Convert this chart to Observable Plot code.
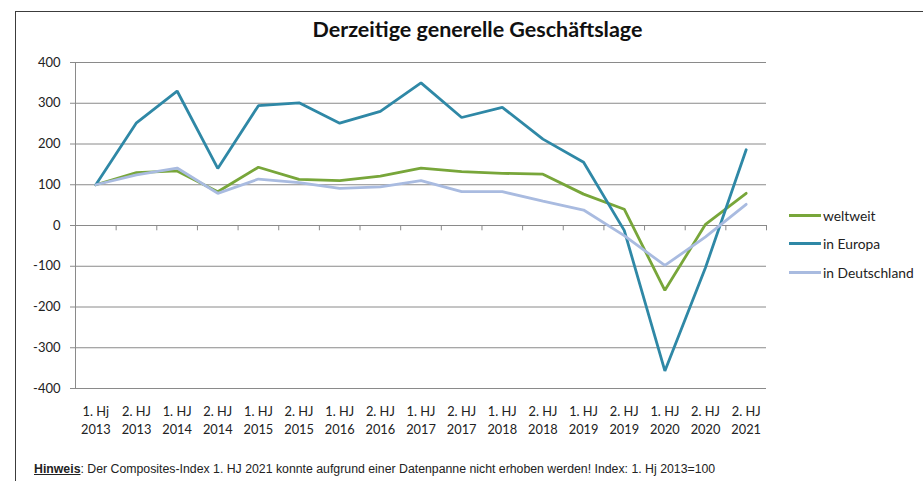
<!DOCTYPE html>
<html>
<head>
<meta charset="utf-8">
<script src="https://cdn.jsdelivr.net/npm/d3@7"></script>
<script src="https://cdn.jsdelivr.net/npm/@observablehq/plot@0.6"></script>
<style>
  html, body { margin: 0; padding: 0; background: #fff; overflow: hidden; }
  #wrap { position: relative; width: 923px; height: 481px; overflow: hidden; background: #fff; }
  #frame { position: absolute; left: 15px; top: 11px; width: 960px; height: 520px; border: 1.5px solid #3c3c3c; box-sizing: border-box; }
  #chart { position: absolute; left: 0; top: 0; }
  #title { position: absolute; left: 0; width: 955px; top: 16px; text-align: center; font-family: Lato, sans-serif; font-weight: bold; font-size: 21.5px; color: #111; }
  #legend { position: absolute; left: 789px; top: 201px; font-family: Lato, sans-serif; font-size: 13.8px; color: #222; }
  .row { display: flex; align-items: center; height: 28.5px; }
  .sw { width: 32px; height: 3px; margin-right: 2px; }
  #note { position: absolute; left: 34px; top: 462px; font-family: "Liberation Sans Narrow", "Arial Narrow", sans-serif; font-size: 12.3px; color: #222; white-space: nowrap; }
  #note b { text-decoration: underline; }
</style>
</head>
<body>
<div id="wrap">
  <div id="frame"></div>
  <div id="chart"></div>
  <div id="title">Derzeitige generelle Geschäftslage</div>
  <div id="legend"></div>
  <div id="note"><b>Hinweis</b>: Der Composites-Index 1. HJ 2021 konnte aufgrund einer Datenpanne nicht erhoben werden! Index: 1. Hj 2013=100</div>
</div>
<script>
const categories = ["1. Hj\n2013","2. HJ\n2013","1. HJ\n2014","2. HJ\n2014","1. HJ\n2015","2. HJ\n2015","1. HJ\n2016","2. HJ\n2016","1. HJ\n2017","2. HJ\n2017","1. HJ\n2018","2. HJ\n2018","1. HJ\n2019","2. HJ\n2019","1. HJ\n2020","2. HJ\n2020","2. HJ\n2021"];
const weltweit     = [100, 130, 134, 83, 143, 113, 110, 121, 141, 132, 128, 126, 77, 40, -159, 3, 79];
const inEuropa     = [100, 252, 330, 140, 294, 301, 251, 280, 350, 265, 290, 212, 155, -12, -357, -103, 186];
const inDeutschland= [100, 124, 141, 79, 114, 105, 91, 95, 110, 83, 83, 60, 38, -25, -98, -28, 52];
const seriesNames  = ["weltweit", "in Europa", "in Deutschland"];
const seriesColors = ["#78a63a", "#2f88a6", "#a9bbe0"];
const yTicks = [-400, -300, -200, -100, 0, 100, 200, 300, 400];

const seriesValues = [weltweit, inEuropa, inDeutschland];
const rows = [];
seriesValues.forEach((vals, s) => vals.forEach((v, i) => rows.push({i, v, s: seriesNames[s]})));
const idx = categories.map((_, i) => i);
const bounds = idx.map(i => i + 0.5);

const plot = Plot.plot({
  width: 923,
  height: 481,
  marginLeft: 75,
  marginRight: 157,
  marginTop: 62,
  marginBottom: 93,
  style: {fontFamily: "Lato, sans-serif", fontSize: "13px", color: "#222", background: "transparent"},
  x: {type: "linear", domain: [-0.5, categories.length - 0.5]},
  y: {domain: [-400, 400]},
  color: {domain: seriesNames, range: seriesColors},
  marks: [
    Plot.ruleY(yTicks, {stroke: "#8a8a8a", strokeWidth: 1}),
    Plot.ruleX([-0.5], {y1: -400, y2: 400, stroke: "#8a8a8a", strokeWidth: 1}),
    Plot.ruleX(bounds, {y1: 0, y2: -13, stroke: "#8a8a8a", strokeWidth: 1}),
    Plot.lineY(rows, {x: "i", y: "v", z: "s", stroke: "s", strokeWidth: 2.8, strokeLinejoin: "miter"}),
    Plot.axisY({ticks: yTicks, tickSize: 5, tickPadding: 10, tickFormat: d => String(d), stroke: "#8a8a8a", fontSize: 13, label: null}),
    Plot.axisX({ticks: idx, tickSize: 0, tickPadding: 15, tickFormat: i => categories[i], fontSize: 12.8, lineHeight: 1.4, label: null})
  ]
});
document.getElementById("chart").appendChild(plot);

const legend = document.getElementById("legend");
seriesNames.forEach((n, k) => {
  const r = document.createElement("div");
  r.className = "row";
  r.innerHTML = `<span class="sw" style="background:${seriesColors[k]}"></span><span>${n}</span>`;
  legend.appendChild(r);
});
</script>
</body>
</html>
